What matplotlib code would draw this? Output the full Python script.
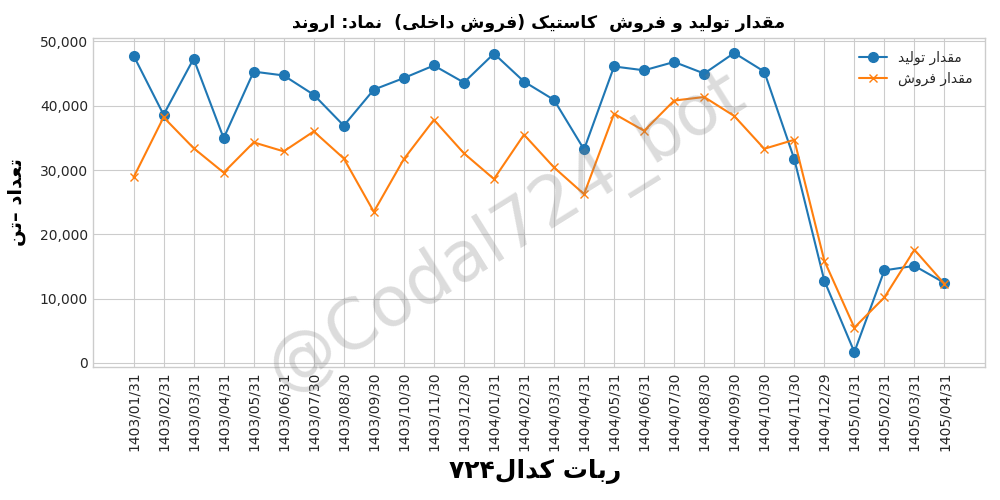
import matplotlib
matplotlib.use('Agg')
import matplotlib.pyplot as plt
from matplotlib.ticker import FuncFormatter

# data
dates = ['1403/01/31', '1403/02/31', '1403/03/31', '1403/04/31', '1403/05/31', '1403/06/31',
         '1403/07/30', '1403/08/30', '1403/09/30', '1403/10/30', '1403/11/30', '1403/12/30',
         '1404/01/31', '1404/02/31', '1404/03/31', '1404/04/31', '1404/05/31', '1404/06/31',
         '1404/07/30', '1404/08/30', '1404/09/30', '1404/10/30', '1404/11/30', '1404/12/29',
         '1405/01/31', '1405/02/31', '1405/03/31', '1405/04/31']
production = [47800, 38600, 47300, 34950, 45300, 44700, 41700, 36900, 42500, 44300,
              46250, 43600, 48100, 43750, 40900, 33200, 46100, 45500, 46800, 45000,
              48200, 45300, 31700, 12800, 1700, 14400, 15100, 12450]
sales = [28850, 38200, 33400, 29600, 34300, 32900, 36000, 31800, 23500, 31700,
         37800, 32600, 28600, 35500, 30400, 26250, 38750, 36100, 40800, 41350,
         38400, 33300, 34700, 15900, 5500, 10200, 17600, 12300]

title_txt = 'مقدار تولید و فروش  کاستیک (فروش داخلی)  نماد: اروند'
label_prod = 'مقدار تولید'
label_sales = 'مقدار فروش'
ylabel_txt = 'تعداد –تن'
xlabel_txt = 'ربات کدال۷۲۴'
watermark = '@Codal724_bot'

# minimal arabic shaping (no reshaper lib available): iso, fin, ini, med
FORMS = {
    'ا': (0xFE8D, 0xFE8E, None, None),
    'ب': (0xFE8F, 0xFE90, 0xFE91, 0xFE92),
    'ت': (0xFE95, 0xFE96, 0xFE97, 0xFE98),
    'خ': (0xFEA5, 0xFEA6, 0xFEA7, 0xFEA8),
    'د': (0xFEA9, 0xFEAA, None, None),
    'ر': (0xFEAD, 0xFEAE, None, None),
    'س': (0xFEB1, 0xFEB2, 0xFEB3, 0xFEB4),
    'ش': (0xFEB5, 0xFEB6, 0xFEB7, 0xFEB8),
    'ع': (0xFEC9, 0xFECA, 0xFECB, 0xFECC),
    'ف': (0xFED1, 0xFED2, 0xFED3, 0xFED4),
    'ق': (0xFED5, 0xFED6, 0xFED7, 0xFED8),
    'ل': (0xFEDD, 0xFEDE, 0xFEDF, 0xFEE0),
    'م': (0xFEE1, 0xFEE2, 0xFEE3, 0xFEE4),
    'ن': (0xFEE5, 0xFEE6, 0xFEE7, 0xFEE8),
    'و': (0xFEED, 0xFEEE, None, None),
    'ی': (0xFBFC, 0xFBFD, 0xFBFE, 0xFBFF),
    'ک': (0xFB8E, 0xFB8F, 0xFB90, 0xFB91),
}
DIGITS = '۰۱۲۳۴۵۶۷۸۹0123456789'


def fa(text):
    out = []
    for i, ch in enumerate(text):
        if ch not in FORMS:
            out.append(ch)
            continue
        f = FORMS[ch]
        prev = text[i - 1] if i > 0 else ''
        nxt = text[i + 1] if i + 1 < len(text) else ''
        join_prev = prev in FORMS and FORMS[prev][2] is not None
        join_next = f[2] is not None and nxt in FORMS
        if join_prev and join_next:
            out.append(chr(f[3]))
        elif join_prev:
            out.append(chr(f[1]))
        elif join_next:
            out.append(chr(f[2]))
        else:
            out.append(chr(f[0]))
    # visual order: reverse, keep digit runs left-to-right, mirror parens
    runs = []
    for ch in out:
        isd = ch in DIGITS
        if runs and runs[-1][0] == isd:
            runs[-1][1].append(ch)
        else:
            runs.append([isd, [ch]])
    vis = ''
    for isd, chars in reversed(runs):
        vis += ''.join(chars) if isd else ''.join(reversed(chars))
    return vis.translate(str.maketrans('()', ')('))


plt.style.use('seaborn-v0_8-whitegrid')
plt.rcParams['font.family'] = ['DejaVu Sans']

fig, ax = plt.subplots(figsize=(10, 5), dpi=100)
fig.subplots_adjust(left=0.093, right=0.985, top=0.924, bottom=0.266)

x = range(len(dates))
ax.plot(x, production, marker='o', markersize=7, linewidth=1.5, color='#1f77b4', label=fa(label_prod))
ax.plot(x, sales, marker='x', markersize=6, linewidth=1.5, color='#ff7f0e', label=fa(label_sales))

ax.set_xticks(list(x))
ax.set_xticklabels(dates, rotation=90, fontsize=10, color='#262626')
ax.tick_params(axis='y', labelsize=10, labelcolor='#262626')
ax.yaxis.set_major_formatter(FuncFormatter(lambda v, p: f'{int(v):,}'))
ax.set_yticks([0, 10000, 20000, 30000, 40000, 50000])

ax.set_title(fa(title_txt), fontsize=12.5, fontweight='bold', color='black', pad=7)
ax.set_ylabel(fa(ylabel_txt), fontsize=14, fontweight='bold', color='black', labelpad=10)
fig.text(0.535, 0.058, fa(xlabel_txt), fontsize=18, fontweight='bold', color='black',
         ha='center', va='center')

ax.legend(loc='upper right', fontsize=10)

fig.text(0.507, 0.535, watermark, fontsize=50, color='gray', alpha=0.28,
         rotation=32, ha='center', va='center')

fig.savefig('out.png', dpi=100)
